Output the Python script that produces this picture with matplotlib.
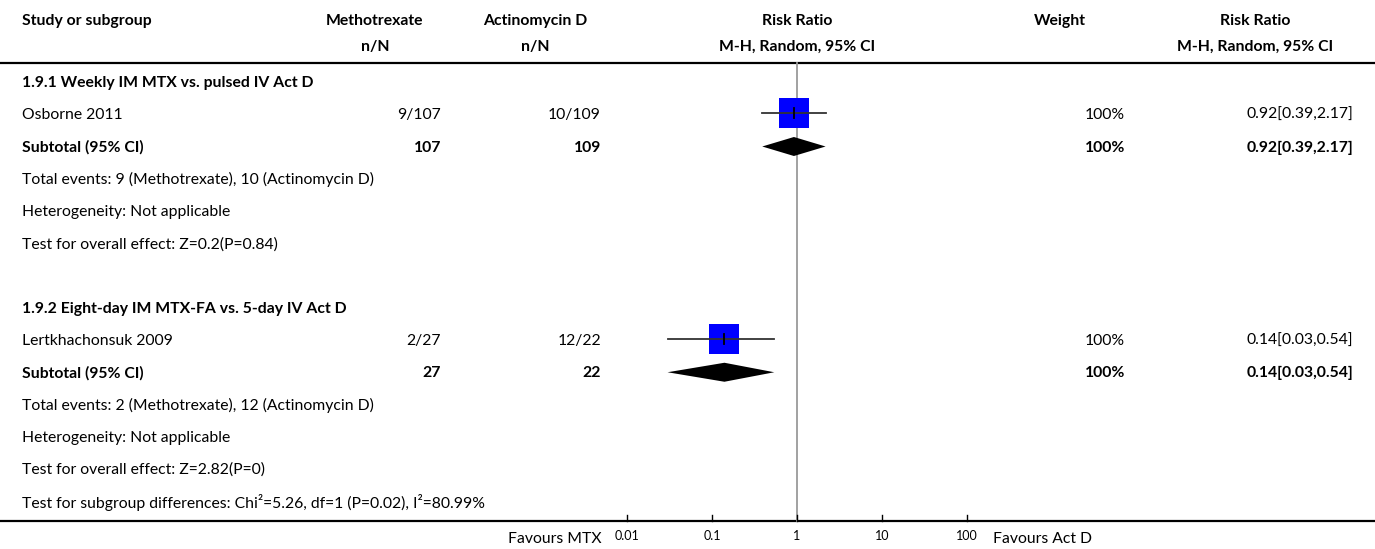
import matplotlib
matplotlib.use("Agg")
import matplotlib.pyplot as plt
import numpy as np

plt.rcParams['font.family'] = ['Lato', 'DejaVu Sans']

# ---- data ----
headers_top = ["Study or subgroup", "Methotrexate", "Actinomycin D", "Risk Ratio", "Weight", "Risk Ratio"]
headers_sub = ["", "n/N", "n/N", "M-H, Random, 95% CI", "", "M-H, Random, 95% CI"]

subgroup_titles = ["1.9.1 Weekly IM MTX vs. pulsed IV Act D",
                   "1.9.2 Eight-day IM MTX-FA vs. 5-day IV Act D"]
study_names = ["Osborne 2011", "Lertkhachonsuk 2009"]
mtx_events = [9, 2]
mtx_total = [107, 27]
actd_events = [10, 12]
actd_total = [109, 22]
rr = [0.92, 0.14]
rr_low = [0.39, 0.03]
rr_high = [2.17, 0.54]
weights = [100, 100]
heterogeneity = ["Heterogeneity: Not applicable", "Heterogeneity: Not applicable"]
overall_effect = ["Test for overall effect: Z=0.2(P=0.84)",
                  "Test for overall effect: Z=2.82(P=0)"]
subgroup_diff = "Test for subgroup differences: Chi\u00b2=5.26, df=1 (P=0.02), I\u00b2=80.99%"
axis_ticks = [0.01, 0.1, 1, 10, 100]
axis_ticklabels = ["0.01", "0.1", "1", "10", "100"]
favours_left = "Favours MTX"
favours_right = "Favours Act D"

# ---- figure in pixel units ----
W, H = 1375, 549
fig = plt.figure(figsize=(W / 100, H / 100), dpi=100)
ax = fig.add_axes([0, 0, 1, 1])
ax.set_xlim(0, W)
ax.set_ylim(H, 0)
ax.axis("off")

FS = 11.3
col_left = 22
col_mtx_c, col_mtx_r = 375, 441
col_act_c, col_act_r = 535, 601
col_rr_c = 797
col_w_c, col_w_r = 1060, 1125
col_ci_c, col_ci_r = 1255, 1353

# header
y_h1, y_h2 = 21, 47
centers = [None, col_mtx_c, col_act_c, col_rr_c, col_w_c, col_ci_c]
for i, (t, s) in enumerate(zip(headers_top, headers_sub)):
    if i == 0:
        ax.text(col_left, y_h1, t, fontsize=FS, fontweight="bold", ha="left", va="center")
    else:
        ax.text(centers[i], y_h1, t, fontsize=FS, fontweight="bold", ha="center", va="center")
        if s:
            ax.text(centers[i], y_h2, s, fontsize=FS, fontweight="bold", ha="center", va="center")
ax.plot([0, W], [63, 63], color="black", lw=1.6, solid_capstyle="butt")

row0, step = 83, 32.25
def row_y(i):
    return row0 + step * i

# forest axes sharing the same vertical pixel scale
fx0, fx1 = 612, 982
dec = 85.0
lo_exp = -2 - (627 - fx0) / dec
hi_exp = 2 + (fx1 - (627 + 4 * dec)) / dec
fax = fig.add_axes([fx0 / W, 0, (fx1 - fx0) / W, 1])
fax.set_xscale("log")
fax.set_xlim(10 ** lo_exp, 10 ** hi_exp)
fax.set_ylim(H, 0)
fax.axis("off")
fax.patch.set_alpha(0)

# null line
fax.plot([1, 1], [63, 521], color="#9a9a9a", lw=1.3, zorder=1)

for g in range(2):
    base = 0 if g == 0 else 7
    y_title = row_y(base)
    y_study = row_y(base + 1)
    y_sub = row_y(base + 2)
    ax.text(col_left, y_title, subgroup_titles[g], fontsize=FS, fontweight="bold", ha="left", va="center")
    ax.text(col_left, y_study, study_names[g], fontsize=FS, ha="left", va="center")
    ax.text(col_mtx_r, y_study, f"{mtx_events[g]}/{mtx_total[g]}", fontsize=FS, ha="right", va="center")
    ax.text(col_act_r, y_study, f"{actd_events[g]}/{actd_total[g]}", fontsize=FS, ha="right", va="center")
    ax.text(col_w_r, y_study, f"{weights[g]}%", fontsize=FS, ha="right", va="center")
    ci_txt = f"{rr[g]:.2f}[{rr_low[g]:.2f},{rr_high[g]:.2f}]"
    ax.text(col_ci_r, y_study, ci_txt, fontsize=FS, ha="right", va="center")

    ax.text(col_left, y_sub, "Subtotal (95% CI)", fontsize=FS, fontweight="bold", ha="left", va="center")
    ax.text(col_mtx_r, y_sub, f"{mtx_total[g]}", fontsize=FS, fontweight="bold", ha="right", va="center")
    ax.text(col_act_r, y_sub, f"{actd_total[g]}", fontsize=FS, fontweight="bold", ha="right", va="center")
    ax.text(col_w_r, y_sub, f"{weights[g]}%", fontsize=FS, fontweight="bold", ha="right", va="center")
    ax.text(col_ci_r, y_sub, ci_txt, fontsize=FS, fontweight="bold", ha="right", va="center")

    ax.text(col_left, row_y(base + 3),
            f"Total events: {mtx_events[g]} (Methotrexate), {actd_events[g]} (Actinomycin D)",
            fontsize=FS, ha="left", va="center")
    ax.text(col_left, row_y(base + 4), heterogeneity[g], fontsize=FS, ha="left", va="center")
    ax.text(col_left, row_y(base + 5), overall_effect[g], fontsize=FS, ha="left", va="center")

    # study estimate: CI line, weighted square, centre tick
    yc = y_study - 2
    msize = 22.3 * np.sqrt(weights[g] / 100)
    fax.plot([rr[g]], [yc], marker="s", markersize=msize, color="#0000ff",
             markeredgewidth=0, linestyle="none", zorder=3)
    fax.plot([rr_low[g], rr_high[g]], [yc, yc], color="#333333", lw=1.3, zorder=4)
    fax.plot([rr[g], rr[g]], [yc - 5, yc + 5], color="black", lw=1.3, zorder=5)

    # subtotal diamond
    yd = y_sub - 1
    fax.fill([rr_low[g], rr[g], rr_high[g], rr[g]], [yd, yd - 9.5, yd, yd + 9.5],
             color="black", lw=0, zorder=3)

ax.text(col_left, row_y(13), subgroup_diff, fontsize=FS, ha="left", va="center")

# bottom axis line with ticks
ax.plot([0, W], [521, 521], color="black", lw=1.6, solid_capstyle="butt")
for t, lab in zip(axis_ticks, axis_ticklabels):
    fax.plot([t, t], [515, 521], color="black", lw=1.0)
    fax.text(t, 536, lab, fontsize=9, ha="center", va="center")
ax.text(602, 539, favours_left, fontsize=FS, ha="right", va="center")
ax.text(993, 539, favours_right, fontsize=FS, ha="left", va="center")

fig.savefig("out.png", dpi=100)
